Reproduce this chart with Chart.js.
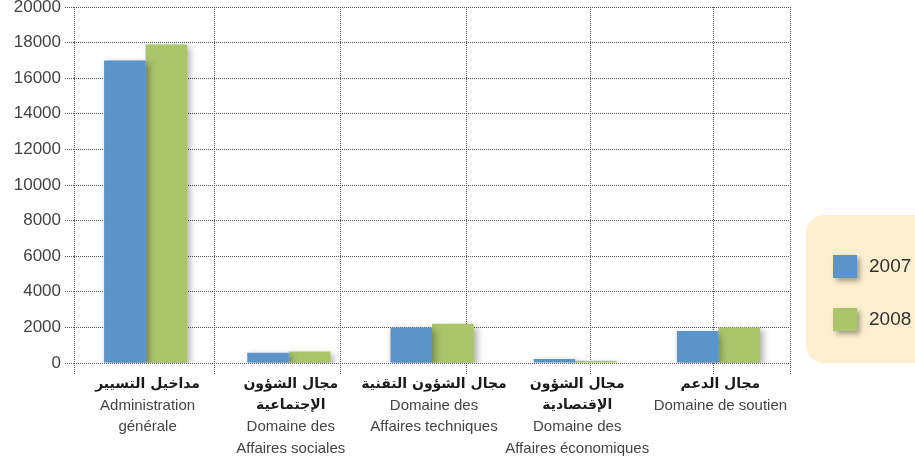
<!DOCTYPE html>
<html>
<head>
<meta charset="utf-8">
<script src="https://cdn.jsdelivr.net/npm/chart.js@4/dist/chart.umd.min.js"></script>
<style>
  html, body { margin: 0; padding: 0; background: #fff; }
  canvas { display: block; }
</style>
</head>
<body>
<canvas id="chart" width="915" height="456"></canvas>
<script>
// category labels, arabic line(s) then french line(s)
const categoriesAr = [
  ['مداخيل التسيير'],
  ['مجال الشؤون', 'الإجتماعية'],
  ['مجال الشؤون التقنية'],
  ['مجال الشؤون', 'الإقتصادية'],
  ['مجال الدعم']
];
const categoriesFr = [
  ['Administration', 'générale'],
  ['Domaine des', 'Affaires sociales'],
  ['Domaine des', 'Affaires techniques'],
  ['Domaine des', 'Affaires économiques'],
  ['Domaine de soutien']
];
const series2007 = [17000, 570, 2000, 230, 1800];
const series2008 = [17900, 640, 2200, 120, 2000];
const yTicks = [0, 2000, 4000, 6000, 8000, 10000, 12000, 14000, 16000, 18000, 20000];

const BLUE = '#5b94c9';
const GREEN = '#abc56b';
const GRID = '#555';

// the vertical dotted lines don't sit on category boundaries in the original,
// these are their places in category units
const vGridAt = [-0.5, 0.48, 1.36, 2.24, 3.1, 3.96, 4.5];

const vGrid = {
  id: 'vGrid',
  beforeDatasetsDraw(chart) {
    const ctx = chart.ctx;
    const x = chart.scales.x;
    const {top, bottom} = chart.chartArea;
    ctx.save();
    ctx.strokeStyle = GRID;
    ctx.lineWidth = 1;
    ctx.setLineDash([1, 1]);
    vGridAt.forEach(v => {
      const px = Math.round(x.getPixelForValue(v)) + 0.5;
      ctx.beginPath();
      ctx.moveTo(px, top);
      ctx.lineTo(px, bottom + 12);
      ctx.stroke();
    });
    ctx.restore();
  }
};

// soft drop shadow behind the bars
const barShadow = {
  id: 'barShadow',
  beforeDatasetsDraw(chart) {
    const ctx = chart.ctx;
    ctx.save();
    ctx.shadowColor = 'rgba(0,0,0,0.35)';
    ctx.shadowBlur = 7;
    ctx.shadowOffsetX = 3;
    ctx.shadowOffsetY = 3;
  },
  afterDatasetsDraw(chart) {
    chart.ctx.restore();
  }
};

// two-font category labels under the axis
const catLabels = {
  id: 'catLabels',
  afterDraw(chart) {
    const ctx = chart.ctx;
    const x = chart.scales.x;
    const top = chart.chartArea.bottom + 21;
    const lh = 21.5;
    ctx.save();
    ctx.textAlign = 'center';
    ctx.textBaseline = 'middle';
    categoriesAr.forEach((ar, i) => {
      const cx = x.getPixelForValue(i) + 2;
      let y = top;
      ctx.direction = 'rtl';
      ctx.font = 'bold 14px "DejaVu Sans"';
      ctx.fillStyle = '#1a1a1a';
      ar.forEach(line => { ctx.fillText(line, cx, y); y += lh; });
      ctx.direction = 'ltr';
      ctx.font = '15px "Liberation Sans"';
      ctx.fillStyle = '#444';
      categoriesFr[i].forEach(line => { ctx.fillText(line, cx, y); y += lh; });
    });
    ctx.restore();
  }
};

// legend in a cream rounded panel
const panelLegend = {
  id: 'panelLegend',
  afterDraw(chart) {
    const ctx = chart.ctx;
    const left = chart.chartArea.right + 16;
    const top = 215;
    ctx.save();
    ctx.fillStyle = '#fdefcf';
    ctx.beginPath();
    ctx.roundRect(left, top, 150, 148, 18);
    ctx.fill();
    chart.data.datasets.forEach((ds, i) => {
      const y = top + 40 + i * 53;
      ctx.save();
      ctx.shadowColor = 'rgba(0,0,0,0.35)';
      ctx.shadowBlur = 5;
      ctx.shadowOffsetX = 3;
      ctx.shadowOffsetY = 3;
      ctx.fillStyle = ds.backgroundColor;
      ctx.fillRect(left + 27, y, 24, 23);
      ctx.restore();
      ctx.fillStyle = '#333';
      ctx.font = '19px "Liberation Sans"';
      ctx.textBaseline = 'middle';
      ctx.fillText(ds.label, left + 63, y + 12);
    });
    ctx.restore();
  }
};

new Chart(document.getElementById('chart'), {
  type: 'bar',
  data: {
    labels: categoriesFr.map(l => l.join(' ')),
    datasets: [
      {label: '2007', data: series2007, backgroundColor: BLUE},
      {label: '2008', data: series2008, backgroundColor: GREEN}
    ]
  },
  options: {
    responsive: false,
    animation: false,
    layout: {padding: {top: 7, right: 125, left: 0, bottom: 0}},
    datasets: {bar: {categoryPercentage: 0.58, barPercentage: 1}},
    plugins: {legend: {display: false}, tooltip: {enabled: false}},
    scales: {
      x: {
        grid: {display: false},
        border: {display: false},
        ticks: {display: false},
        afterFit(scale) { scale.height = 93; }
      },
      y: {
        min: 0,
        max: 20000,
        afterBuildTicks(scale) { scale.ticks = yTicks.map(v => ({value: v})); },
        ticks: {
          color: '#444',
          font: {family: 'Liberation Sans', size: 17},
          padding: 4,
          callback: v => String(v)
        },
        border: {display: false, dash: [1, 1]},
        grid: {color: GRID, lineWidth: 1, tickLength: 9, tickBorderDash: [1, 1]},
        afterFit(scale) {
          scale.width = 74;
          scale.paddingTop = 0;
          scale.paddingBottom = 0;
        }
      }
    }
  },
  plugins: [vGrid, barShadow, catLabels, panelLegend]
});
</script>
</body>
</html>
